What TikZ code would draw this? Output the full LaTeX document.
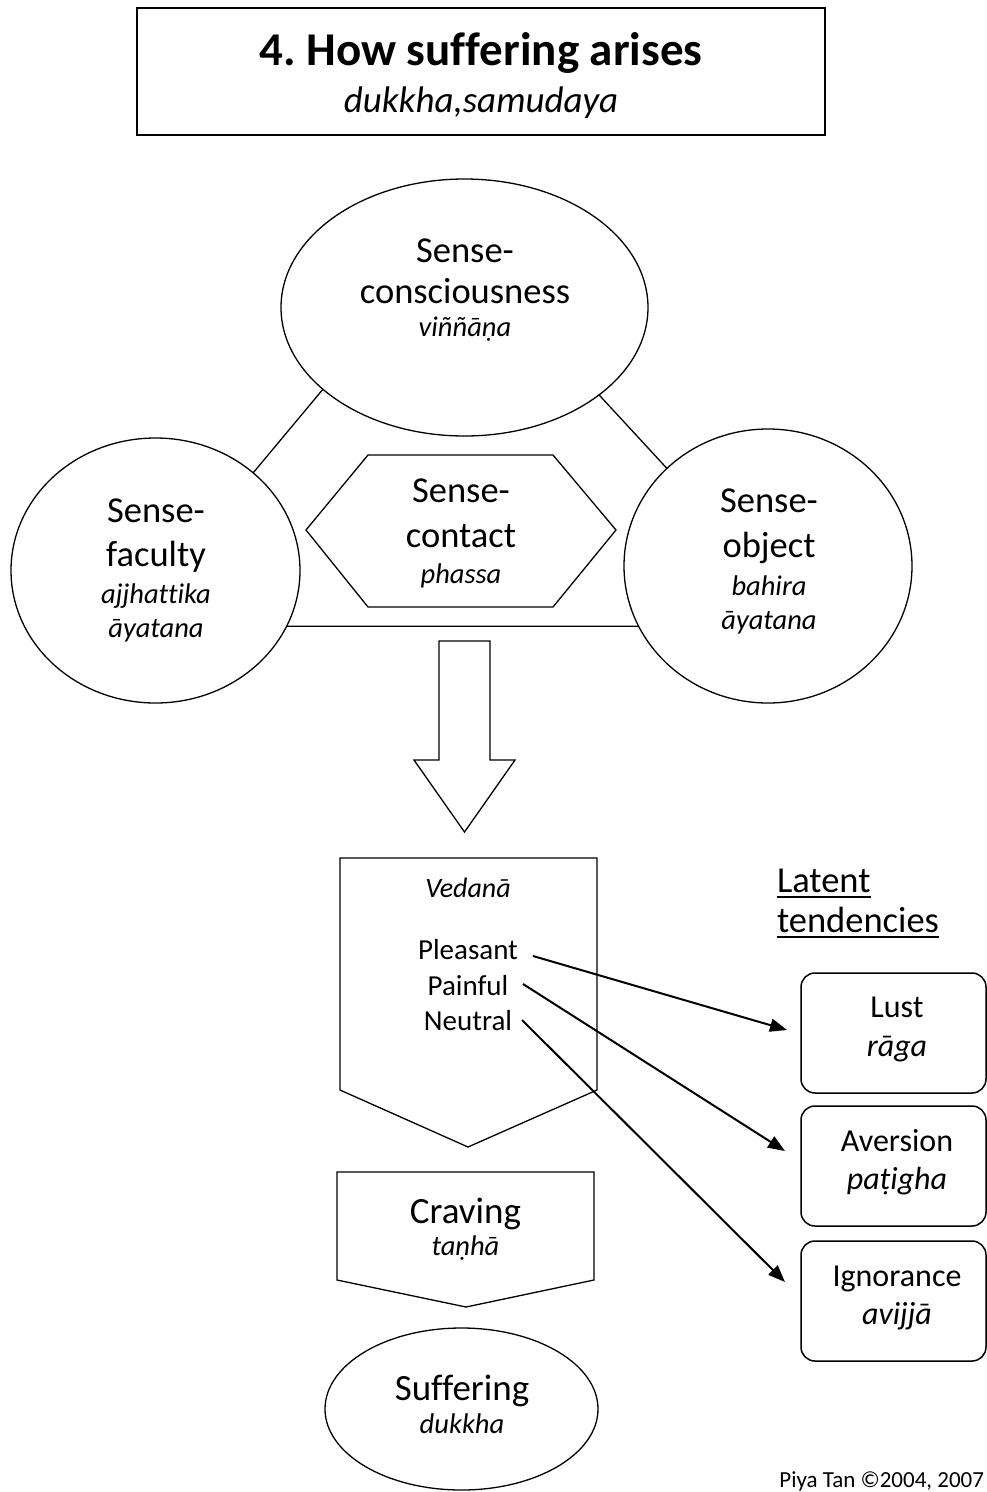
\documentclass[tikz,border=0pt]{standalone}
\usepackage{fontspec}
\setmainfont{Carlito}[Ligatures=NoCommon]
\usetikzlibrary{shapes.geometric,arrows.meta}
\newcommand\fsz[1]{\fontsize{#1}{#1}\selectfont}
\newcommand\myul[1]{\setbox0\hbox{#1}\rlap{\rule[-6pt]{\wd0}{2pt}}\box0}
\frenchspacing
\begin{document}
\begin{tikzpicture}[x=1pt,y=-1pt,
  every node/.style={inner sep=0pt, outer sep=0pt},
  txt/.style={anchor=base},
  oval/.style={ellipse, draw, line width=1.3pt},
  shp/.style={draw, line width=1.3pt, line join=miter},
  tbox/.style={rounded corners=14pt, draw, line width=1.5pt},
  conn/.style={line width=1.3pt},
  arr/.style={line width=2pt, -{Triangle[length=17pt,width=13pt]}},
  big/.style={font=\fsz{36.5}},
  it/.style={font=\fsz{28.5}\itshape},
  bbig/.style={font=\fsz{32}},
  bit/.style={font=\fsz{32}\itshape}]
\useasboundingbox (0,0) rectangle (987,1492);

% title
\node[draw, line width=1.5pt, minimum width=688pt, minimum height=127pt] (title) at (481,71.5) {};
\node[txt, font=\fsz{47}\bfseries] (t1) at (481,65) {4. How suffering arises};
\node[txt, font=\fsz{37}\itshape] (t2) at (481,112) {dukkha,samudaya};

% three ellipses
\node[oval, minimum width=367pt, minimum height=257pt] (cons) at (464.5,307.5) {};
\node[oval, minimum width=289pt, minimum height=265pt] (fac) at (155.5,570.5) {};
\node[oval, minimum width=288pt, minimum height=274pt] (obj) at (768,566) {};

\node[txt, big] (c1) at (465,262) {Sense-};
\node[txt, big] (c2) at (465,303) {consciousness};
\node[txt, it] (c3) at (465,336) {viññāṇa};

\node[txt, big] (f1) at (156,522) {Sense-};
\node[txt, big] (f2) at (156,566) {faculty};
\node[txt, it] (f3) at (156,603) {ajjhattika};
\node[txt, it] (f4) at (156,637) {āyatana};

\node[txt, big] (o1) at (769,512) {Sense-};
\node[txt, big] (o2) at (769,557) {object};
\node[txt, it] (o3) at (769,595) {bahira};
\node[txt, it] (o4) at (769,629) {āyatana};

% connectors between ellipses
\draw[conn] (cons.210.8) -- (fac.45);
\draw[conn] (cons.327.2) -- (obj.136.1);
\draw[conn] (fac.-23.8) -- (obj.205.8);

% hexagon
\draw[shp] (306,530) -- (368,455) -- (553,455) -- (616,530) -- (553,607) -- (368,607) -- cycle;
\node[txt, big] (h1) at (461,502) {Sense-};
\node[txt, big] (h2) at (461,547) {contact};
\node[txt, it] (h3) at (461,583) {phassa};

% block arrow
\draw[shp] (439,641) -- (490,641) -- (490,760) -- (515,760) -- (464.5,832) -- (414,760) -- (439,760) -- cycle;

% vedana
\draw[shp] (340,858) -- (597,858) -- (597,1090) -- (468,1147) -- (340,1090) -- cycle;
\node[txt, font=\fsz{28}\itshape] (v0) at (468,897) {Vedanā};
\node[txt, font=\fsz{29}] (v1) at (468,959) {Pleasant};
\node[txt, font=\fsz{29}] (v2) at (468,995) {Painful};
\node[txt, font=\fsz{29}] (v3) at (468,1030) {Neutral};

% latent tendencies
\node[anchor=base west, big] (lat1) at (777,892) {\myul{Latent}};
\node[anchor=base west, big] (lat2) at (777,932) {\myul{tendencies}};

% boxes
\node[tbox, minimum width=185pt, minimum height=120pt] (lust) at (893.5,1033) {};
\node[tbox, minimum width=185pt, minimum height=120pt] (avers) at (893.5,1166) {};
\node[tbox, minimum width=185pt, minimum height=120pt] (ignor) at (893.5,1301) {};
\node[txt, bbig] (l1) at (897,1017) {Lust};
\node[txt, bit] (l2) at (897,1056) {rāga};
\node[txt, bbig] (a1) at (897,1151) {Aversion};
\node[txt, bit] (a2) at (897,1189) {paṭigha};
\node[txt, bbig] (i1) at (897,1286) {Ignorance};
\node[txt, bit] (i2) at (897,1324) {avijjā};

% arrows
\coordinate (pl) at (533,956);
\coordinate (pa) at (523,984);
\coordinate (ne) at (522,1020);
\draw[arr] (pl) -- ([xshift=-14pt,yshift=3pt]lust.west);
\draw[arr] (pa) -- ([xshift=-16pt,yshift=15pt]avers.west);
\draw[arr] (ne) -- ([xshift=-16pt,yshift=19pt]ignor.west);

% craving
\draw[shp] (337,1172) -- (594,1172) -- (594,1280) -- (466,1307) -- (337,1280) -- cycle;
\node[txt, font=\fsz{37}] (cr1) at (465.5,1223) {Craving};
\node[txt, it] (cr2) at (465.5,1255) {taṇhā};

% suffering
\node[oval, minimum width=273pt, minimum height=162pt] (suf) at (461.5,1409) {};
\node[txt, font=\fsz{37}] (s1) at (462,1400) {Suffering};
\node[txt, it] (s2) at (462,1433) {dukkha};

% footer
\node[anchor=base east, font=\fsz{23}] (foot) at (984,1487) {Piya Tan ©2004, 2007};
\end{tikzpicture}
\end{document}
